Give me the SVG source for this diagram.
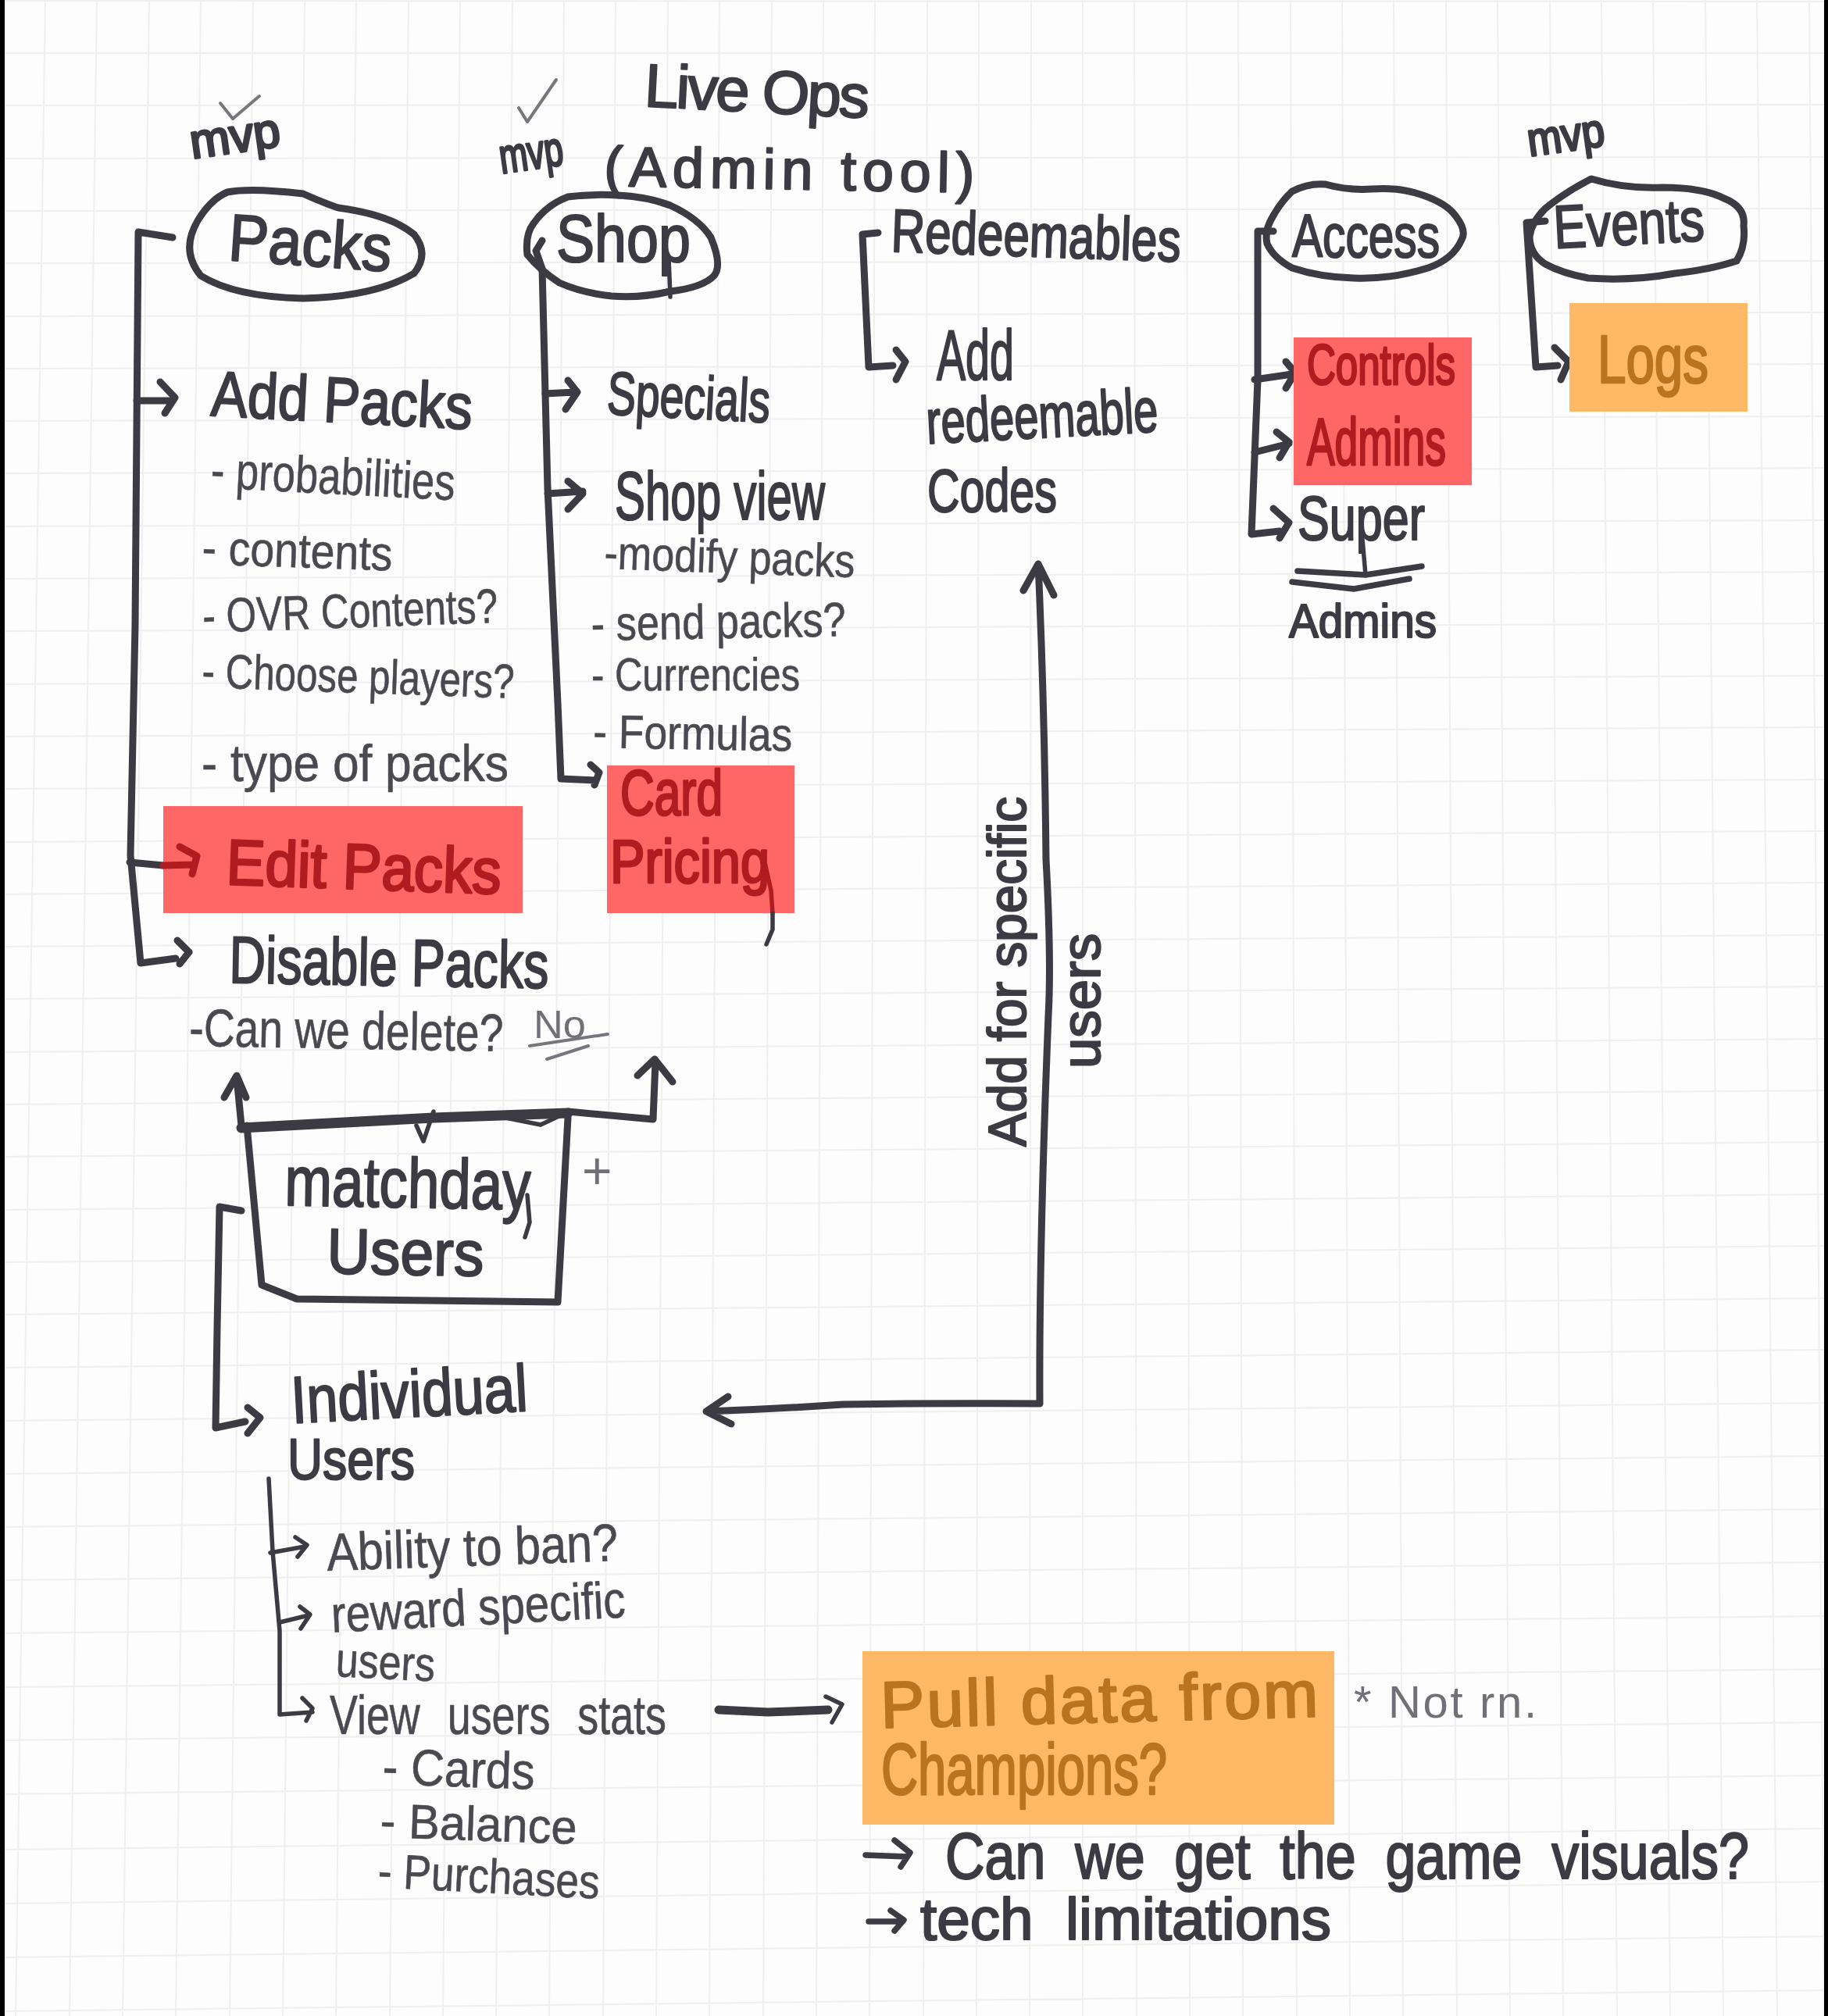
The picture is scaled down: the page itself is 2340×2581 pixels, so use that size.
<svg xmlns="http://www.w3.org/2000/svg" width="2340" height="2581" viewBox="0 0 2340 2581">
<style>
text{font-family:"Liberation Sans",Arial,sans-serif;stroke-linejoin:round;stroke-linecap:round}
.h{fill:#3c3b43;stroke:#3c3b43;stroke-width:3.2}
.b{fill:#3c3b43;stroke:#3c3b43;stroke-width:2.2}
.n{fill:#4a4950;stroke:#4a4950;stroke-width:.6}
.f{fill:#707076}
.r{fill:#b01c20;stroke:#b01c20;stroke-width:3}
.o{fill:#b87420;stroke:#b87420;stroke-width:2.6}
.s{fill:none;stroke:#3c3b43;stroke-linecap:round;stroke-linejoin:round;stroke-width:9}
.t{stroke-width:5.5}
.u{stroke-width:4;stroke:#77767c}
.w{stroke-width:7.5}
.red{fill:#ff6666}
.org{fill:#ffb866}
.grid{fill:none;stroke:#efefef;stroke-width:2}
</style>
<rect width="2340" height="2581" fill="#fdfdfd"/>
<path class="grid" d="M58 0L20 2581M124 0L89 2581M191 0L157 2581M257 0L225 2581M324 0L294 2581M390 0L362 2581M456 0L430 2581M523 0L499 2581M589 0L567 2581M656 0L635 2581M722 0L703 2581M788 0L772 2581M855 0L840 2581M921 0L908 2581M988 0L977 2581M1054 0L1045 2581M1120 0L1113 2581M1187 0L1182 2581M1253 0L1250 2581M1320 0L1318 2581M1386 0L1386 2581M1452 0L1455 2581M1519 0L1523 2581M1585 0L1591 2581M1652 0L1660 2581M1718 0L1728 2581M1784 0L1796 2581M1851 0L1865 2581M1917 0L1933 2581M1984 0L2001 2581M2050 0L2070 2581M2116 0L2138 2581M2183 0L2206 2581M2249 0L2275 2581M2316 0L2335 2581M0 1L2340 2M0 68L2340 68M0 135L2340 134M0 203L2340 201M0 270L2340 267M0 337L2340 334M0 405L2340 400M0 472L2340 466M0 539L2340 533M0 606L2340 599M0 674L2340 666M0 741L2340 732M0 808L2340 798M0 876L2340 865M0 943L2340 931M0 1010L2340 998M0 1078L2340 1064M0 1145L2340 1130M0 1212L2340 1197M0 1279L2340 1263M0 1347L2340 1330M0 1414L2340 1396M0 1481L2340 1462M0 1549L2340 1529M0 1616L2340 1595M0 1683L2340 1662M0 1751L2340 1728M0 1819L2340 1796M0 1887L2340 1864M0 1955L2340 1932M0 2023L2340 2000M0 2091L2340 2069M0 2160L2340 2137M0 2228L2340 2205M0 2297L2340 2273M0 2368L2340 2341M0 2437L2340 2409M0 2506L2340 2479M0 2575L2340 2548"/>
<rect x="0" y="0" width="6" height="2581" fill="#000"/>
<rect x="2335" y="0" width="5" height="2581" fill="#000"/>

<g id="title">
<text class="b" x="824" y="136" font-size="78" textLength="288" lengthAdjust="spacing" transform="rotate(3 824 136)">Live Ops</text>
<text class="b" x="773" y="238" font-size="72" textLength="474" lengthAdjust="spacing" transform="rotate(1 773 238)">(Admin tool)</text>
</g>

<g id="connectors">
<!-- Packs -->
<path class="s" d="M221 304L177 297L173 800L167 1095L180 1233L225 1227M227 1204L242 1219L230 1234"/>
<path class="s" d="M175 513L216 513M205 489L224 509L211 529"/>
<path class="s" d="M166 1104L209 1108"/>
<!-- Shop -->
<path class="s" d="M694 308L686 321L694 344L701 625L714 900L718 997L762 999M756 979L767 989L761 1005"/>
<path class="s" d="M698 504L735 502M727 487L739 502L724 524"/>
<path class="s" d="M701 632L746 629M727 616L746 632L727 652"/>
<!-- Redeemables -->
<path class="s" d="M1124 298L1104 300L1112 470L1143 468M1147 448L1159 463L1147 486"/>
<!-- Access -->
<path class="s" d="M1630 296L1610 296L1610 486L1602 684L1638 680M1630 651L1650 669L1638 689"/>
<path class="s" d="M1606 486L1654 479M1646 463L1658 477L1646 497"/>
<path class="s" d="M1606 579L1650 568M1634 553L1650 566L1638 586"/>
<!-- Events -->
<path class="s" d="M1978 283L1954 285L1966 470L1994 468M1990 445L2008 463L1998 486"/>
<!-- Individual users to redeemable codes -->
<path class="s" d="M1310 756L1329 722L1349 762M1329 722Q1337 900 1339 1100Q1346 1230 1342 1300Q1330 1600 1331 1797Q1200 1796 1079 1798Q990 1804 904 1807M932 1788L904 1807L936 1823"/>
<!-- Matchday -->
<path class="s" d="M309 1441L303 1380M287 1405L303 1377L315 1405"/>
<path class="s" d="M727 1423L836 1433L839 1359M816 1377L838 1356L861 1385"/>
<path class="s" d="M309 1550L281 1545L278 1700L276 1828L314 1820M317 1802L333 1815L317 1835"/>
<!-- Individual users children -->
<path class="s t" d="M344 1893L349 1986L358 2088L358 2195L400 2192M387 2174L400 2187L392 2203"/>
<path class="s t" d="M346 1988L390 1980M378 1968L393 1978L381 1993"/>
<path class="s t" d="M358 2077L395 2068M384 2057L397 2067L385 2085"/>
<!-- Stats to Champions -->
<path class="s" style="stroke-width:11" d="M920 2189L983 2192L1060 2189"/>
<path class="s t" d="M1057 2172L1078 2182L1065 2205"/>
<path class="s w" d="M1108 2375L1161 2377M1145 2356L1165 2372L1153 2390"/>
<path class="s w" d="M1112 2460L1153 2460M1140 2446L1157 2458L1145 2472"/>
</g>

<g id="packs">
<path class="s" d="M291 246Q320 240 388 248Q420 262 433 266Q500 275 530 300Q550 325 530 350Q480 380 388 382Q300 380 257 353Q230 320 254 281Q270 255 291 246Z"/>
<text class="b" x="291" y="333" font-size="85" textLength="209" lengthAdjust="spacingAndGlyphs" transform="rotate(4 291 333)">Packs</text>
<text class="h" x="246" y="203" font-size="62" textLength="116" lengthAdjust="spacingAndGlyphs" transform="rotate(-8 246 203)">mvp</text>
<path class="s u" d="M282 132L298 152L332 123"/>
</g>
<g id="add-packs">
<text class="b" x="269" y="532" font-size="82" textLength="335" lengthAdjust="spacingAndGlyphs" transform="rotate(3 269 532)">Add Packs</text>
<text class="n" x="269" y="624" font-size="66" textLength="313" lengthAdjust="spacingAndGlyphs" transform="rotate(3 269 624)">- probabilities</text>
<text class="n" x="258" y="722" font-size="62" textLength="244" lengthAdjust="spacingAndGlyphs" transform="rotate(2 258 722)">- contents</text>
<text class="n" x="260" y="810" font-size="62" textLength="378" lengthAdjust="spacingAndGlyphs" transform="rotate(-2 260 810)">- OVR Contents?</text>
<text class="n" x="258" y="880" font-size="62" textLength="400" lengthAdjust="spacingAndGlyphs" transform="rotate(2 258 880)">- Choose players?</text>
<text class="n" x="258" y="1000" font-size="66" textLength="393" lengthAdjust="spacingAndGlyphs">- type of packs</text>
</g>
<g id="edit-packs">
<rect class="red" x="209" y="1032" width="460" height="137"/>
<path class="s" style="stroke:#b01c20" d="M209 1108L246 1107M230 1084L252 1096L246 1119"/>
<text class="r" x="289" y="1132" font-size="82" textLength="352" lengthAdjust="spacingAndGlyphs" transform="rotate(2 289 1132)">Edit Packs</text>
</g>
<g id="disable-packs">
<text class="b" x="293" y="1258" font-size="85" textLength="409" lengthAdjust="spacingAndGlyphs" transform="rotate(1 293 1258)">Disable Packs</text>
<text class="n" x="242" y="1339" font-size="68" textLength="402" lengthAdjust="spacingAndGlyphs" transform="rotate(1 242 1339)">-Can we delete?</text>
<text class="f" x="683" y="1329" font-size="50" textLength="67" lengthAdjust="spacingAndGlyphs">No</text>
<path class="s u" d="M678 1339L778 1324M700 1356L753 1339"/>
</g>

<g id="shop">
<path class="s" d="M727 252Q760 248 791 250Q830 252 858 263Q895 280 910 304Q925 340 914 353Q900 368 858 373Q820 382 783 379Q745 375 716 362Q690 345 675 326Q672 300 683 286Q700 262 727 252Z"/>
<text class="b" x="712" y="335" font-size="85" textLength="172" lengthAdjust="spacingAndGlyphs">Shop</text>
<path class="s t" d="M856 330L858 380"/>
<text class="h" x="642" y="222" font-size="62" textLength="82" lengthAdjust="spacingAndGlyphs" transform="rotate(-8 642 222)">mvp</text>
<path class="s u" d="M664 138L675 156L712 102"/>
</g>
<g id="shop-children">
<text class="b" x="776" y="530" font-size="78" textLength="209" lengthAdjust="spacingAndGlyphs" transform="rotate(3 776 530)">Specials</text>
<text class="b" x="787" y="665" font-size="88" textLength="269" lengthAdjust="spacingAndGlyphs">Shop view</text>
<text class="n" x="773" y="728" font-size="60" textLength="321" lengthAdjust="spacingAndGlyphs" transform="rotate(2 773 728)">-modify packs</text>
<text class="n" x="757" y="820" font-size="62" textLength="326" lengthAdjust="spacingAndGlyphs" transform="rotate(-1 757 820)">- send packs?</text>
<text class="n" x="757" y="884" font-size="60" textLength="267" lengthAdjust="spacingAndGlyphs">- Currencies</text>
<text class="n" x="759" y="957" font-size="60" textLength="255" lengthAdjust="spacingAndGlyphs" transform="rotate(1 759 957)">- Formulas</text>
</g>
<g id="card-pricing">
<rect class="red" x="777" y="980" width="240" height="189"/>
<text class="r" x="794" y="1043" font-size="82" textLength="131" lengthAdjust="spacingAndGlyphs">Card</text>
<text class="r" x="781" y="1130" font-size="78" textLength="204" lengthAdjust="spacingAndGlyphs">Pricing</text>
<path class="s t" style="stroke:#b01c20" d="M979 1104L987 1140L989 1169"/>
<path class="s t" d="M989 1169L989 1190L981 1209"/>
</g>

<g id="redeemables">
<text class="b" x="1140" y="322" font-size="78" textLength="371" lengthAdjust="spacingAndGlyphs" transform="rotate(2 1140 322)">Redeemables</text>
<text class="b" x="1199" y="486" font-size="90" textLength="99" lengthAdjust="spacingAndGlyphs">Add</text>
<text class="b" x="1187" y="568" font-size="80" textLength="297" lengthAdjust="spacingAndGlyphs" transform="rotate(-3 1187 568)">redeemable</text>
<text class="b" x="1187" y="655" font-size="78" textLength="166" lengthAdjust="spacingAndGlyphs">Codes</text>
</g>

<g id="access">
<path class="s" d="M1654 245Q1675 234 1697 236Q1725 244 1756 242Q1790 240 1812 247Q1850 258 1863 276Q1878 295 1871 307Q1860 332 1828 343Q1780 358 1733 356Q1690 355 1654 343Q1630 330 1622 312Q1618 295 1630 276Q1640 258 1654 245Z"/>
<text class="b" x="1654" y="329" font-size="78" textLength="189" lengthAdjust="spacingAndGlyphs">Access</text>
</g>
<g id="controls-admins">
<rect class="red" x="1656" y="432" width="228" height="189"/>
<text class="r" x="1673" y="492" font-size="72" textLength="190" lengthAdjust="spacingAndGlyphs">Controls</text>
<text class="r" x="1673" y="595" font-size="86" textLength="178" lengthAdjust="spacingAndGlyphs">Admins</text>
</g>
<g id="super-admins">
<text class="b" x="1661" y="691" font-size="80" textLength="163" lengthAdjust="spacingAndGlyphs">Super</text>
<path class="s t" d="M1744 690L1748 736"/>
<path class="s w" d="M1661 731L1748 736L1820 725M1654 745L1733 754L1804 741"/>
<text class="b" x="1650" y="816" font-size="62" textLength="189" lengthAdjust="spacingAndGlyphs">Admins</text>
</g>

<g id="events">
<path class="s" d="M1978 267Q2005 245 2037 229Q2080 242 2128 240Q2180 240 2207 254Q2235 265 2232 289Q2235 315 2223 334Q2190 345 2144 350Q2090 360 2033 356Q2000 350 1978 338Q1958 325 1958 303Q1960 285 1978 267Z"/>
<text class="b" x="1990" y="318" font-size="78" textLength="193" lengthAdjust="spacingAndGlyphs" transform="rotate(-3 1990 318)">Events</text>
<text class="h" x="1958" y="200" font-size="60" textLength="99" lengthAdjust="spacingAndGlyphs" transform="rotate(-8 1958 200)">mvp</text>
</g>
<g id="logs">
<rect class="org" x="2009" y="388" width="228" height="139"/>
<text class="o" x="2045" y="490" font-size="88" textLength="142" lengthAdjust="spacingAndGlyphs">Logs</text>
</g>

<g id="add-for-specific">
<text class="b" x="1313" y="1468" font-size="68" textLength="448" lengthAdjust="spacingAndGlyphs" transform="rotate(-90 1313 1468)">Add for specific</text>
<text class="b" x="1408" y="1368" font-size="70" textLength="173" lengthAdjust="spacingAndGlyphs" transform="rotate(-90 1408 1368)">users</text>
</g>

<g id="matchday-users">
<path class="s" d="M316 1441L335 1645L380 1663L714 1667L727 1431"/>
<path class="s" style="stroke-width:13" d="M309 1444L555 1431L727 1425"/>
<path class="s t" d="M533 1441L542 1461L555 1423M647 1431L692 1440L724 1425"/>
<text class="b" x="364" y="1543" font-size="90" textLength="315" lengthAdjust="spacingAndGlyphs" transform="rotate(1 364 1543)">matchday</text>
<path class="s t" d="M675 1530L678 1565L672 1584"/>
<text class="b" x="418" y="1630" font-size="82" textLength="201" lengthAdjust="spacingAndGlyphs" transform="rotate(1 418 1630)">Users</text>
<text class="f" x="745" y="1522" font-size="66">+</text>
</g>

<g id="individual-users">
<text class="b" x="374" y="1822" font-size="85" textLength="303" lengthAdjust="spacingAndGlyphs" transform="rotate(-3 374 1822)">Individual</text>
<text class="b" x="368" y="1894" font-size="75" textLength="163" lengthAdjust="spacingAndGlyphs">Users</text>
<text class="n" x="419" y="2011" font-size="68" textLength="373" lengthAdjust="spacingAndGlyphs" transform="rotate(-2 419 2011)">Ability to ban?</text>
<text class="n" x="425" y="2090" font-size="66" textLength="377" lengthAdjust="spacingAndGlyphs" transform="rotate(-3 425 2090)">reward specific</text>
<text class="n" x="429" y="2146" font-size="62" textLength="127" lengthAdjust="spacingAndGlyphs" transform="rotate(3 429 2146)">users</text>
<text class="n" x="422" y="2220" font-size="70" word-spacing="26" textLength="431" lengthAdjust="spacingAndGlyphs">View users stats</text>
<text class="n" x="489" y="2284" font-size="66" textLength="195" lengthAdjust="spacingAndGlyphs" transform="rotate(2 489 2284)">- Cards</text>
<text class="n" x="486" y="2352" font-size="62" textLength="252" lengthAdjust="spacingAndGlyphs" transform="rotate(2 486 2352)">- Balance</text>
<text class="n" x="483" y="2416" font-size="62" textLength="284" lengthAdjust="spacingAndGlyphs" transform="rotate(3 483 2416)">- Purchases</text>
</g>

<g id="pull-data">
<rect class="org" x="1104" y="2114" width="604" height="222"/>
<text class="o" x="1128" y="2212" font-size="84" textLength="560" lengthAdjust="spacing" transform="rotate(-1.5 1128 2212)">Pull data from</text>
<text class="o" x="1128" y="2297" font-size="92" textLength="366" lengthAdjust="spacingAndGlyphs">Champions?</text>
<text class="f" x="1733" y="2199" font-size="58" textLength="234" lengthAdjust="spacing">* Not rn.</text>
</g>
<g id="questions">
<text class="b" x="1210" y="2405" font-size="84" word-spacing="22" textLength="1029" lengthAdjust="spacingAndGlyphs">Can we get the game visuals?</text>
<text class="b" x="1178" y="2483" font-size="76" word-spacing="20" textLength="526" lengthAdjust="spacingAndGlyphs">tech limitations</text>
</g>
</svg>
